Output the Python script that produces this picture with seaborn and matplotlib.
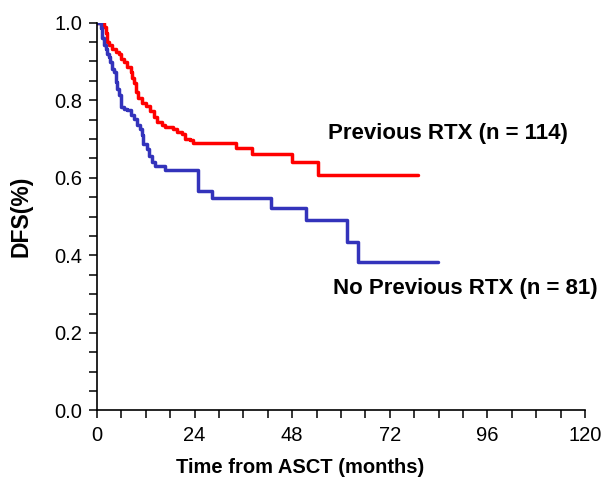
import seaborn as sns
import pandas as pd
import matplotlib.pyplot as plt
import numpy as np

# Curvas de supervivencia libre de enfermedad
red_time = [0, 1.7, 2.1, 2.5, 2.9, 3.7, 4.6, 5.4, 5.8, 6.6, 7.4, 8.3, 8.7, 9.1,
            9.5, 10.2, 11.0, 12.0, 13.1, 13.9, 14.7, 16.0, 16.7, 18.7, 19.6, 20.8,
            21.6, 22.8, 23.7, 34.3, 38.0, 47.9, 54.4, 79.0]
red_dfs = [1.0, 0.989, 0.972, 0.950, 0.941, 0.933, 0.924, 0.920, 0.907, 0.898,
           0.886, 0.873, 0.856, 0.843, 0.821, 0.806, 0.792, 0.785, 0.773, 0.756,
           0.743, 0.735, 0.730, 0.726, 0.717, 0.713, 0.700, 0.696, 0.690, 0.676,
           0.662, 0.640, 0.606, 0.606]

blue_time = [0, 0.9, 1.3, 1.7, 2.1, 2.5, 2.9, 3.3, 3.7, 4.2, 4.6, 5.0, 5.4, 5.8,
             6.6, 7.4, 8.3, 9.0, 9.8, 10.6, 11.0, 11.4, 12.3, 12.7, 13.5, 14.3,
             16.7, 24.9, 28.2, 42.8, 51.4, 61.4, 64.2, 83.9]
blue_dfs = [1.0, 0.985, 0.959, 0.941, 0.933, 0.920, 0.911, 0.898, 0.881, 0.873,
            0.847, 0.830, 0.813, 0.783, 0.778, 0.774, 0.761, 0.752, 0.735, 0.726,
            0.709, 0.687, 0.674, 0.657, 0.640, 0.631, 0.619, 0.567, 0.548, 0.522,
            0.491, 0.434, 0.382, 0.382]

red_label = "Previous RTX (n = 114)"
blue_label = "No Previous RTX (n = 81)"

sns.set_style("ticks")
plt.rcParams['font.family'] = ['Liberation Sans', 'DejaVu Sans']
plt.rcParams['text.color'] = 'black'
plt.rcParams['axes.labelcolor'] = 'black'

fig, ax = plt.subplots(figsize=(6.07, 4.8), dpi=100)
fig.subplots_adjust(left=0.1598, right=0.9638, bottom=0.1448, top=0.953)

red = pd.DataFrame({'t': red_time, 'dfs': red_dfs})
blue = pd.DataFrame({'t': blue_time, 'dfs': blue_dfs})

sns.lineplot(data=red, x='t', y='dfs', estimator=None, sort=False,
             drawstyle='steps-post', color='#ff0000', lw=2.5, ax=ax)
sns.lineplot(data=blue, x='t', y='dfs', estimator=None, sort=False,
             drawstyle='steps-post', color='#3333bb', lw=2.5, ax=ax)

ax.text(56.8, 0.714, red_label, fontsize=16, fontweight='bold', ha='left', va='center')
ax.text(58.0, 0.314, blue_label, fontsize=16, fontweight='bold', ha='left', va='center')

ax.set_xlim(0, 120)
ax.set_ylim(0, 1.0)
ax.set_xticks(np.arange(0, 121, 24))
ax.set_xticks(np.arange(0, 121, 6), minor=True)
ax.set_yticks(np.arange(0, 1.01, 0.2))
ax.set_yticks(np.arange(0, 1.01, 0.05), minor=True)
ax.set_yticklabels(['0.0', '0.2', '0.4', '0.6', '0.8', '1.0'])
ax.tick_params(which='both', direction='out', length=5.5, width=1.1, labelsize=14.5,
               color='black', labelcolor='black')
ax.tick_params(axis='x', pad=6)
ax.tick_params(axis='y', pad=5)

ax.set_xlabel("Time from ASCT (months)", fontsize=14.5, fontweight='bold')
ax.set_ylabel("DFS(%)", fontsize=16.5, fontweight='bold')
ax.xaxis.set_label_coords(0.416, -0.122)
ax.yaxis.set_label_coords(-0.133, 0.5)

for s in ['left', 'bottom']:
    ax.spines[s].set_linewidth(1.2)
    ax.spines[s].set_color('black')
sns.despine(ax=ax)

plt.savefig("out.png", dpi=100)
